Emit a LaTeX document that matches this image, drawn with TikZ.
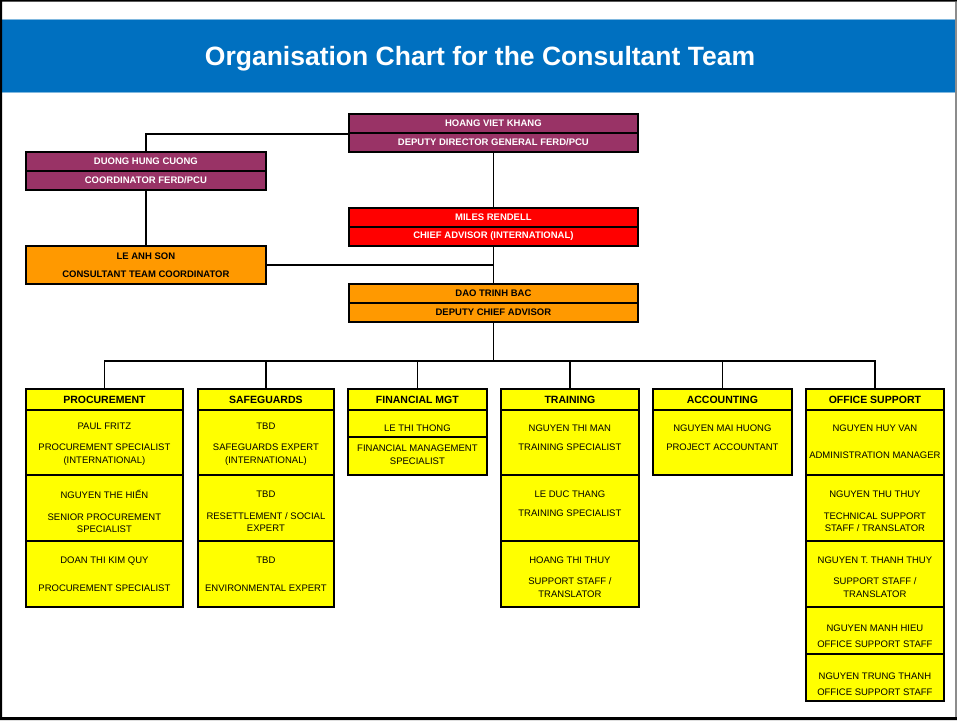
\documentclass[tikz,border=0pt]{standalone}
\usepackage{fontspec}
\setmainfont{Liberation Sans}
\usepackage{xcolor}
\definecolor{bandblue}{RGB}{0,112,192}
\definecolor{plum}{RGB}{153,51,102}
\definecolor{amber}{RGB}{255,153,0}
\definecolor{lemon}{RGB}{255,255,0}

% one staff cell: name, x, top, width, height, text shift, text
\newcommand{\staffcell}[7]{%
  \node[cellbox, minimum width=#4pt, minimum height=#5pt] (#1) at (#2,#3) {};
  \node[celltext] (#1t) at ([yshift=#6pt]#1.center) {#7};
}

\begin{document}
\begin{tikzpicture}[x=1pt, y=-1pt,
    box/.style={draw=black, line width=1.8pt, inner sep=0pt, anchor=north west,
      align=center, font=\fontsize{9.5}{12.5}\selectfont\bfseries},
    headbox/.style={box, fill=lemon, minimum height=21pt, font=\fontsize{10.5}{12}\selectfont\bfseries},
    cellbox/.style={draw=black, line width=1.8pt, inner sep=0pt, anchor=north west, fill=lemon},
    celltext/.style={inner sep=0pt, align=center, font=\fontsize{9.5}{12.5}\selectfont},
    conn/.style={line width=1.8pt}]
    \useasboundingbox (0,0) rectangle (957,720);

    % Page frame and title band
    \fill[white] (0,0) rectangle (957,720);
    \fill[bandblue] (2,19) rectangle (955,92);
    \draw[bandblue!50!white, line width=0.8pt] (2,19) -- (955,19) (2,92) -- (955,92);
    \node[white, font=\fontsize{26.5}{30}\selectfont\bfseries, anchor=base] (title) at (480,65)
      {Organisation Chart for the Consultant Team};
    \fill[black] (0,0) rectangle (2,720) (0,0) rectangle (957,1.5) (0,717) rectangle (957,720);
    \fill[black!45] (955,1.5) rectangle (957,717);

    % Management
    \node[box, fill=plum, text=white, minimum width=289pt, minimum height=19pt] (khang) at (348,113) {HOANG VIET KHANG};
    \node[box, fill=plum, text=white, minimum width=289pt, minimum height=19pt] (khangrole) at (348,132) {DEPUTY DIRECTOR GENERAL FERD/PCU};
    \node[box, fill=plum, text=white, minimum width=240pt, minimum height=19pt] (cuong) at (25,151) {DUONG HUNG CUONG};
    \node[box, fill=plum, text=white, minimum width=240pt, minimum height=19pt] (cuongrole) at (25,170) {COORDINATOR FERD/PCU};
    \node[box, fill=red, text=white, minimum width=289pt, minimum height=19pt] (rendell) at (348,207) {MILES RENDELL};
    \node[box, fill=red, text=white, minimum width=289pt, minimum height=19pt] (rendellrole) at (348,226) {CHIEF ADVISOR (INTERNATIONAL)};
    \node[box, fill=amber, minimum width=240pt, minimum height=38pt] (son) at (25,245) {LE ANH SON\\[5.5pt]CONSULTANT TEAM COORDINATOR};
    \node[box, fill=amber, minimum width=289pt, minimum height=19pt] (bac) at (348,283) {DAO TRINH BAC};
    \node[box, fill=amber, minimum width=289pt, minimum height=19pt] (bacrole) at (348,302) {DEPUTY CHIEF ADVISOR};

    % Unit headers
    \node[headbox, minimum width=157pt] (proc) at (25,388) {PROCUREMENT};
    \node[headbox, minimum width=136pt] (safe) at (197,388) {SAFEGUARDS};
    \node[headbox, minimum width=139pt] (fin) at (347,388) {FINANCIAL MGT};
    \node[headbox, minimum width=138pt] (train) at (500,388) {TRAINING};
    \node[headbox, minimum width=139pt] (acct) at (652,388) {ACCOUNTING};
    \node[headbox, minimum width=138pt] (office) at (805,388) {OFFICE SUPPORT};

    % Staff
    \staffcell{proc1}{25}{409}{157}{65}{-2}{PAUL FRITZ\\[8.5pt]PROCUREMENT SPECIALIST\\(INTERNATIONAL)}
    \staffcell{proc2}{25}{474}{157}{66}{-3.5}{NGUYEN THE HIẾN\\[9.5pt]SENIOR PROCUREMENT\\SPECIALIST}
    \staffcell{proc3}{25}{540}{157}{66}{0}{DOAN THI KIM QUY\\[15.5pt]PROCUREMENT SPECIALIST}
    \staffcell{safe1}{197}{409}{136}{65}{-2}{TBD\\[8.5pt]SAFEGUARDS EXPERT\\(INTERNATIONAL)}
    \staffcell{safe2}{197}{474}{136}{66}{-3.5}{TBD\\[9.5pt]RESETTLEMENT / SOCIAL\\EXPERT}
    \staffcell{safe3}{197}{540}{136}{66}{0}{TBD\\[15.5pt]ENVIRONMENTAL EXPERT}
    \staffcell{fin1}{347}{409}{139}{27}{-4.5}{LE THI THONG}
    \staffcell{fin2}{347}{436}{139}{38}{1}{FINANCIAL MANAGEMENT\\SPECIALIST}
    \staffcell{train1}{500}{409}{138}{65}{5}{NGUYEN THI MAN\\[6.5pt]TRAINING SPECIALIST}
    \staffcell{train2}{500}{474}{138}{66}{4}{LE DUC THANG\\[6.5pt]TRAINING SPECIALIST}
    \staffcell{train3}{500}{540}{138}{66}{-3.5}{HOANG THI THUY\\[8.5pt]SUPPORT STAFF /\\TRANSLATOR}
    \staffcell{acct1}{652}{409}{139}{65}{5}{NGUYEN MAI HUONG\\[6.5pt]PROJECT ACCOUNTANT}
    \staffcell{office1}{805}{409}{138}{65}{1}{NGUYEN HUY VAN\\[14.5pt]ADMINISTRATION MANAGER}
    \staffcell{office2}{805}{474}{138}{66}{-3.5}{NGUYEN THU THUY\\[9.5pt]TECHNICAL SUPPORT\\STAFF / TRANSLATOR}
    \staffcell{office3}{805}{540}{138}{66}{-3.5}{NGUYEN T. THANH THUY\\[8.5pt]SUPPORT STAFF /\\TRANSLATOR}
    \staffcell{office4}{805}{606}{138}{47}{-6}{NGUYEN MANH HIEU\\[3.5pt]OFFICE SUPPORT STAFF}
    \staffcell{office5}{805}{653}{138}{47}{-6.5}{NGUYEN TRUNG THANH\\[3.5pt]OFFICE SUPPORT STAFF}

    % Reporting lines
    \draw[conn] (khang.south west) -| (cuong.north);
    \draw[conn] (cuongrole.south) -- (son.north);
    \draw[conn] (khangrole.south) -- (rendell.north);
    \draw[conn] (rendellrole.south) -- (bac.north);
    \draw[conn] (son.east) -- (son.east -| rendellrole.south);
    \coordinate (bus) at (492,361);
    \draw[conn] (bacrole.south) -- (bacrole.south |- bus);
    \draw[conn] (proc.north) |- (office.north |- bus) -- (office.north);
    \foreach \u in {safe,fin,train,acct}
        \draw[conn] (\u.north |- bus) -- (\u.north);
\end{tikzpicture}
\end{document}
